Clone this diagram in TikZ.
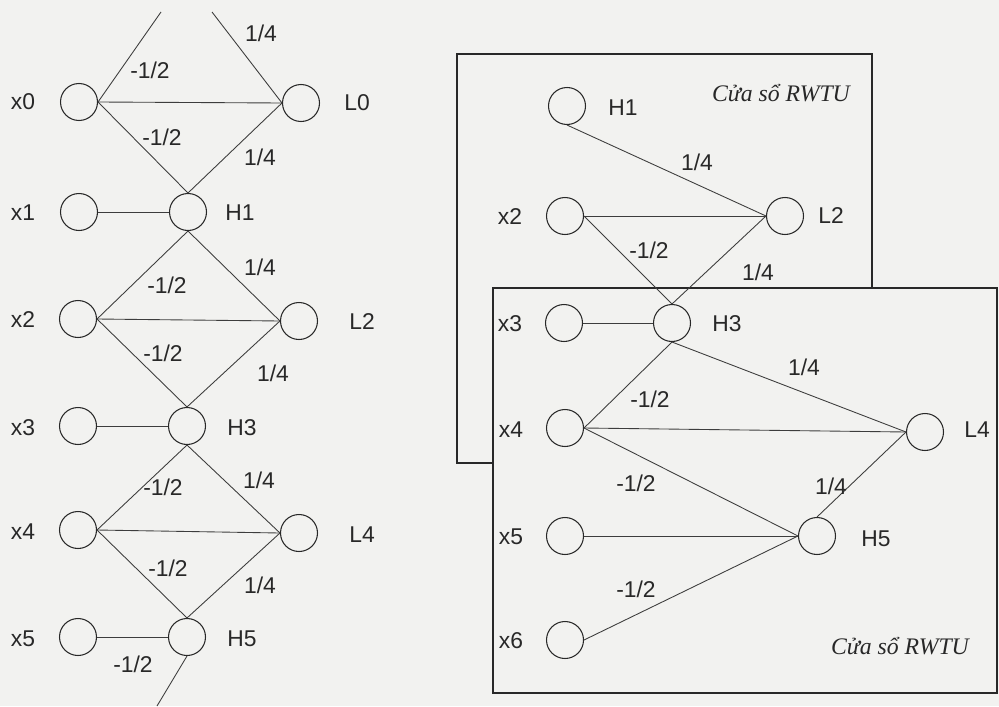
\documentclass[tikz,border=0pt]{standalone}
\usepackage{fontspec}
\setmainfont{Liberation Sans}
\newfontfamily\serifit{Liberation Serif}
\definecolor{paper}{RGB}{242,242,240}
\definecolor{ink}{RGB}{40,40,40}
\begin{document}
\begin{tikzpicture}[x=0.02cm,y=-0.02cm,
  nd/.style={circle,draw=ink,line width=0.6pt,minimum size=0.74cm,inner sep=0pt},
  lbl/.style={font=\fontsize{13}{15}\selectfont,text=ink,inner sep=0pt},
  wl/.style={font=\fontsize{13}{15}\selectfont,text=ink,inner sep=0pt},
  win/.style={font=\serifit\itshape\fontsize{13.5}{15}\selectfont,text=ink,inner sep=0pt},
  ed/.style={draw=ink!90,line width=0.5pt},
  boxst/.style={draw=ink,line width=0.6pt,fill=paper}]
\fill[paper] (0,0) rectangle (999,706);
\useasboundingbox (0,0) rectangle (999,706);
% ---------------- left graph ----------------
\node[nd] (lx0) at (79,102) {};
\node[nd] (lL0) at (301,103) {};
\node[nd] (lx1) at (79,212) {};
\node[nd] (lH1) at (188,212) {};
\node[nd] (lx2) at (78,319) {};
\node[nd] (lL2) at (299,321) {};
\node[nd] (lx3) at (78,426) {};
\node[nd] (lH3) at (187,426) {};
\node[nd] (lx4) at (78,530) {};
\node[nd] (lL4) at (299,533) {};
\node[nd] (lx5) at (78,637) {};
\node[nd] (lH5) at (187,637) {};
\coordinate (ltopA) at (161,12);
\coordinate (ltopB) at (212,12);
\coordinate (lbot) at (157,706);
\node[lbl] (tx0) at (23,102) {x0};
\node[lbl] (tx1) at (23,213) {x1};
\node[lbl] (tx2) at (23,320) {x2};
\node[lbl] (tx3) at (23,428) {x3};
\node[lbl] (tx4) at (23,532) {x4};
\node[lbl] (tx5) at (23,639) {x5};
\node[lbl] (tL0) at (357,103) {L0};
\node[lbl] (tL2) at (362,322) {L2};
\node[lbl] (tL4) at (362,535) {L4};
\node[lbl] (tH1) at (240,213) {H1};
\node[lbl] (tH3) at (242,428) {H3};
\node[lbl] (tH5) at (242,639) {H5};
\draw[ed] (lx0.east) -- (ltopA);
\draw[ed] (lL0.west) -- (ltopB);
\draw[ed] (lx0.east) -- (lL0.west);
\draw[ed] (lx0.east) -- (lH1.north);
\draw[ed] (lL0.west) -- (lH1.north);
\draw[ed] (lx1.east) -- (lH1.west);
\draw[ed] (lH1.south) -- (lx2.east);
\draw[ed] (lH1.south) -- (lL2.west);
\draw[ed] (lx2.east) -- (lL2.west);
\draw[ed] (lx2.east) -- (lH3.north);
\draw[ed] (lL2.west) -- (lH3.north);
\draw[ed] (lx3.east) -- (lH3.west);
\draw[ed] (lH3.south) -- (lx4.east);
\draw[ed] (lH3.south) -- (lL4.west);
\draw[ed] (lx4.east) -- (lL4.west);
\draw[ed] (lx4.east) -- (lH5.north);
\draw[ed] (lL4.west) -- (lH5.north);
\draw[ed] (lx5.east) -- (lH5.west);
\draw[ed] (lH5.south) -- (lbot);
\node[wl] (w1) at (261,33) {1/4};
\node[wl] (w2) at (150,70) {-1/2};
\node[wl] (w3) at (162,137) {-1/2};
\node[wl] (w4) at (260,157) {1/4};
\node[wl] (w5) at (260,267) {1/4};
\node[wl] (w6) at (167,285) {-1/2};
\node[wl] (w7) at (163,353) {-1/2};
\node[wl] (w8) at (273,373) {1/4};
\node[wl] (w9) at (259,480) {1/4};
\node[wl] (w10) at (163,487) {-1/2};
\node[wl] (w11) at (168,568) {-1/2};
\node[wl] (w12) at (260,585) {1/4};
\node[wl] (w13) at (133,664) {-1/2};
% ---------------- right windows ----------------
\draw[boxst] (457,54) rectangle (872,463);
\draw[boxst] (493,288) rectangle (997,693);
\node[win] (cap1) at (781,93) {Cửa sổ RWTU};
\node[win] (cap2) at (900,646) {Cửa sổ RWTU};
\node[nd] (rH1) at (567,106) {};
\node[nd] (rx2) at (565,216) {};
\node[nd] (rL2) at (785,216) {};
\node[nd] (rx3) at (564,323) {};
\node[nd] (rH3) at (672,323) {};
\node[nd] (rx4) at (565,428) {};
\node[nd] (rL4) at (925,432) {};
\node[nd] (rx5) at (565,536) {};
\node[nd] (rH5) at (817,536) {};
\node[nd] (rx6) at (565,640) {};
\node[lbl] (sH1) at (623,108) {H1};
\node[lbl] (sx2) at (510,217) {x2};
\node[lbl] (sL2) at (831,216) {L2};
\node[lbl] (sx3) at (510,324) {x3};
\node[lbl] (sH3) at (727,324) {H3};
\node[lbl] (sx4) at (511,430) {x4};
\node[lbl] (sL4) at (977,430) {L4};
\node[lbl] (sx5) at (511,537) {x5};
\node[lbl] (sH5) at (876,539) {H5};
\node[lbl] (sx6) at (511,641) {x6};
\draw[ed] (rH1.south) -- (rL2.west);
\draw[ed] (rx2.east) -- (rL2.west);
\draw[ed] (rx2.east) -- (rH3.north);
\draw[ed] (rL2.west) -- (rH3.north);
\draw[ed] (rx3.east) -- (rH3.west);
\draw[ed] (rH3.south) -- (rx4.east);
\draw[ed] (rH3.south) -- (rL4.west);
\draw[ed] (rx4.east) -- (rL4.west);
\draw[ed] (rx4.east) -- (rH5.west);
\draw[ed] (rx5.east) -- (rH5.west);
\draw[ed] (rx6.east) -- (rH5.west);
\draw[ed] (rH5.north) -- (rL4.west);
\node[wl] (v1) at (697,162) {1/4};
\node[wl] (v2) at (649,250) {-1/2};
\node[wl] (v3) at (758,272) {1/4};
\node[wl] (v4) at (804,367) {1/4};
\node[wl] (v5) at (650,399) {-1/2};
\node[wl] (v6) at (636,483) {-1/2};
\node[wl] (v7) at (831,486) {1/4};
\node[wl] (v8) at (636,589) {-1/2};
\end{tikzpicture}
\end{document}
